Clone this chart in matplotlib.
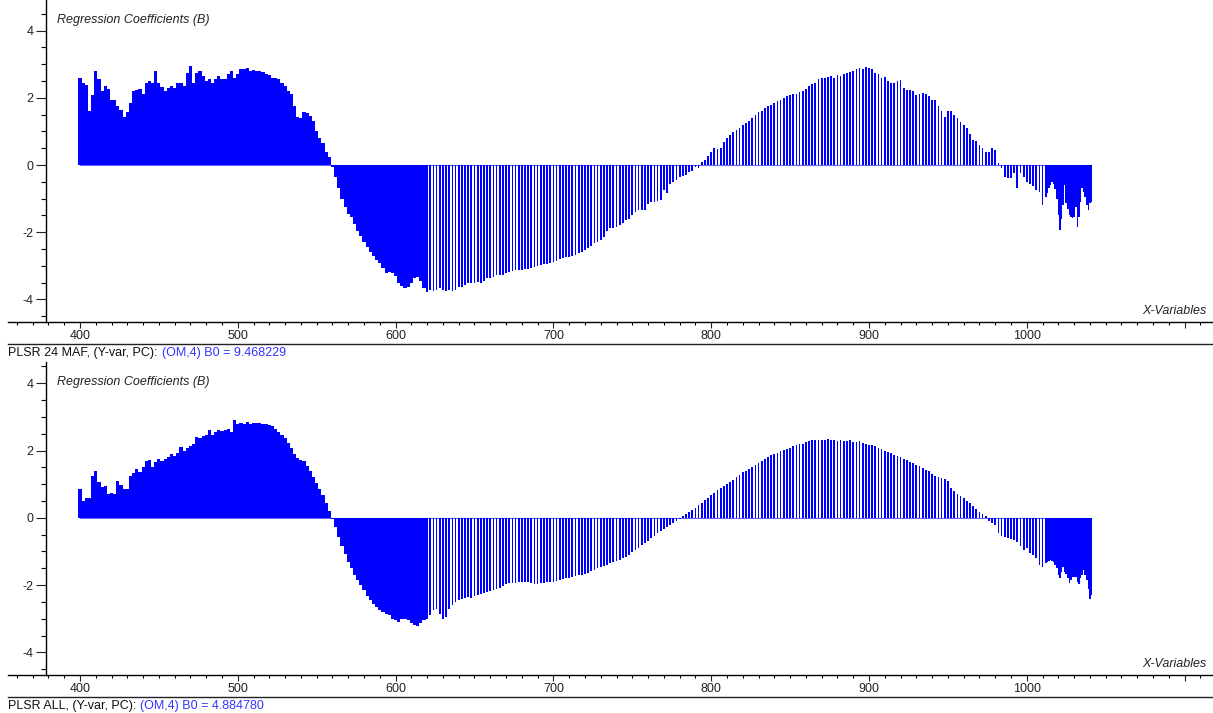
import numpy as np
import matplotlib
matplotlib.use('Agg')
import matplotlib.pyplot as plt
from matplotlib.lines import Line2D
from matplotlib.ticker import MultipleLocator

plt.rcParams['font.family'] = ['Liberation Sans', 'DejaVu Sans']
plt.rcParams['axes.unicode_minus'] = False

# wavelength grids (nm): dense part, sparse part, dense tail
wl_a = np.arange(400, 620, 2)
wl_b = np.arange(620, 1014, 2)
wl_c = np.arange(1013, 1042, 1)

# top panel: PLSR 24 MAF
maf_a = [2.59, 2.45, 2.38, 1.6, 2.08, 2.8, 2.55, 2.2, 2.35, 2.25,
         1.93, 1.93, 1.75, 1.65, 1.42, 1.58, 1.85, 2.2, 2.22, 2.25,
         2.1, 2.45, 2.5, 2.45, 2.8, 2.45, 2.33, 2.2, 2.3, 2.35,
         2.3, 2.45, 2.45, 2.35, 2.75, 2.95, 2.45, 2.75, 2.8, 2.65,
         2.5, 2.55, 2.45, 2.55, 2.65, 2.55, 2.55, 2.7, 2.8, 2.6,
         2.7, 2.85, 2.85, 2.9, 2.8, 2.83, 2.8, 2.8, 2.78, 2.7,
         2.68, 2.6, 2.6, 2.55, 2.45, 2.35, 2.2, 2.1, 1.75, 1.42,
         1.4, 1.58, 1.56, 1.45, 1.3, 1.02, 0.8, 0.67, 0.4, 0.25,
         -0.05, -0.35, -0.69, -1.0, -1.25, -1.47, -1.55, -1.75, -1.95, -2.1,
         -2.28, -2.45, -2.6, -2.72, -2.82, -2.92, -3.05, -3.2, -3.18, -3.2,
         -3.3, -3.5, -3.6, -3.66, -3.64, -3.5, -3.35, -3.33, -3.45, -3.65]
maf_b = [-3.77, -3.72, -3.75, -3.72, -3.66, -3.72, -3.74, -3.72, -3.76, -3.72,
         -3.62, -3.62, -3.58, -3.52, -3.52, -3.5, -3.47, -3.52, -3.45, -3.37,
         -3.35, -3.32, -3.27, -3.28, -3.27, -3.22, -3.18, -3.14, -3.12, -3.12,
         -3.11, -3.09, -3.08, -3.05, -3.03, -3.0, -2.98, -2.95, -2.93, -2.9,
         -2.88, -2.85, -2.79, -2.76, -2.74, -2.73, -2.72, -2.69, -2.62, -2.58,
         -2.52, -2.48, -2.4, -2.33, -2.28, -2.23, -2.15, -1.95, -1.88, -1.88,
         -1.84, -1.79, -1.72, -1.64, -1.6, -1.5, -1.39, -1.35, -1.34, -1.34,
         -1.15, -1.09, -1.09, -1.06, -1.04, -0.74, -0.84, -0.55, -0.5, -0.45,
         -0.37, -0.33, -0.3, -0.22, -0.18, -0.05, -0.1, 0.1, 0.15, 0.28,
         0.4, 0.5, 0.48, 0.5, 0.68, 0.8, 0.9, 0.98, 1.04, 1.1,
         1.2, 1.25, 1.32, 1.4, 1.5, 1.58, 1.62, 1.7, 1.75, 1.8,
         1.85, 1.9, 1.93, 2.0, 2.05, 2.08, 2.1, 2.12, 2.17, 2.2,
         2.25, 2.35, 2.4, 2.45, 2.55, 2.6, 2.58, 2.62, 2.65, 2.6,
         2.68, 2.65, 2.7, 2.75, 2.77, 2.8, 2.85, 2.89, 2.85, 2.92,
         2.9, 2.85, 2.75, 2.7, 2.58, 2.63, 2.5, 2.43, 2.43, 2.5,
         2.53, 2.28, 2.23, 2.23, 2.2, 2.08, 2.1, 2.13, 2.1, 2.05,
         1.93, 1.93, 1.75, 1.6, 1.44, 1.6, 1.62, 1.5, 1.4, 1.29,
         1.2, 1.1, 0.92, 0.75, 0.72, 0.6, 0.5, 0.4, 0.38, 0.5,
         0.45, 0.05, -0.1, -0.35, -0.38, -0.4, -0.25, -0.69, -0.25, -0.35,
         -0.5, -0.55, -0.62, -0.74, -0.79, -1.19, -0.94]
maf_c = [-0.84, -0.69, -0.6, -0.5, -0.55, -0.7, -1.0, -1.5, -1.93, -1.6,
         -1.2, -0.6, -1.14, -1.3, -1.49, -1.55, -1.59, -1.54, -1.24, -1.84,
         -1.54, -1.1, -0.69, -0.8, -0.94, -1.2, -1.34, -1.14, -1.1]

# bottom panel: PLSR ALL
all_a = [0.85, 0.5, 0.6, 0.6, 1.23, 1.4, 1.05, 0.92, 0.95, 0.7,
         0.75, 0.7, 1.1, 0.98, 0.85, 0.85, 1.25, 1.32, 1.46, 1.36,
         1.5, 1.68, 1.72, 1.5, 1.65, 1.75, 1.68, 1.75, 1.8, 1.9,
         1.85, 1.93, 2.1, 1.98, 2.08, 2.12, 2.2, 2.4, 2.38, 2.42,
         2.45, 2.6, 2.45, 2.55, 2.62, 2.58, 2.6, 2.65, 2.55, 2.9,
         2.78, 2.82, 2.8, 2.85, 2.8, 2.83, 2.83, 2.82, 2.8, 2.78,
         2.76, 2.72, 2.63, 2.56, 2.46, 2.37, 2.23, 2.08, 1.9, 1.78,
         1.73, 1.68, 1.55, 1.4, 1.2, 1.03, 0.85, 0.68, 0.45, 0.2,
         -0.03, -0.27, -0.56, -0.84, -1.08, -1.3, -1.5, -1.7, -1.85, -2.0,
         -2.15, -2.33, -2.45, -2.55, -2.65, -2.73, -2.8, -2.86, -2.9, -3.0,
         -3.05, -3.1, -3.0, -3.0, -3.05, -3.12, -3.18, -3.2, -3.12, -3.05]
all_b = [-3.0, -2.9, -2.75, -2.72, -2.85, -3.0, -2.95, -2.7, -2.6, -2.5,
         -2.45, -2.4, -2.38, -2.35, -2.38, -2.33, -2.3, -2.27, -2.23, -2.2,
         -2.18, -2.15, -2.12, -2.08, -2.03, -1.97, -1.95, -1.94, -1.93, -1.91,
         -1.9, -1.9, -1.9, -1.93, -1.97, -1.96, -1.95, -1.93, -1.9, -1.9,
         -1.9, -1.88, -1.85, -1.83, -1.8, -1.79, -1.76, -1.74, -1.71, -1.69,
         -1.66, -1.64, -1.58, -1.55, -1.5, -1.45, -1.43, -1.4, -1.35, -1.3,
         -1.28, -1.25, -1.2, -1.15, -1.1, -1.03, -0.97, -0.9, -0.82, -0.75,
         -0.68, -0.6, -0.53, -0.45, -0.38, -0.32, -0.26, -0.2, -0.15, -0.1,
         -0.04, 0.04, 0.1, 0.16, 0.23, 0.3, 0.37, 0.45, 0.53, 0.6,
         0.68, 0.75, 0.82, 0.88, 0.95, 1.0, 1.05, 1.12, 1.2, 1.28,
         1.35, 1.4, 1.46, 1.52, 1.58, 1.63, 1.7, 1.75, 1.8, 1.86,
         1.9, 1.94, 1.98, 2.02, 2.05, 2.08, 2.12, 2.15, 2.18, 2.2,
         2.25, 2.27, 2.3, 2.3, 2.32, 2.32, 2.3, 2.33, 2.32, 2.3,
         2.28, 2.3, 2.28, 2.27, 2.3, 2.26, 2.25, 2.27, 2.22, 2.2,
         2.17, 2.15, 2.12, 2.08, 2.05, 2.0, 1.96, 1.92, 1.88, 1.84,
         1.8, 1.76, 1.72, 1.66, 1.62, 1.58, 1.54, 1.48, 1.42, 1.38,
         1.3, 1.25, 1.2, 1.18, 1.14, 1.1, 0.9, 0.8, 0.7, 0.66,
         0.58, 0.5, 0.43, 0.35, 0.25, 0.18, 0.12, 0.05, -0.08, -0.14,
         -0.2, -0.45, -0.55, -0.58, -0.61, -0.63, -0.67, -0.72, -0.85, -0.95,
         -0.9, -1.05, -1.1, -1.18, -1.4, -1.45, -1.35]
all_c = [-1.3, -1.28, -1.25, -1.27, -1.3, -1.4, -1.5, -1.7, -1.8, -1.6,
         -1.45, -1.6, -1.66, -1.8, -1.95, -1.85, -1.75, -1.75, -1.75, -1.9,
         -1.97, -1.8, -1.7, -1.55, -1.7, -1.85, -2.1, -2.4, -2.3]

panels = [
    ((maf_a, maf_b, maf_c), 'PLSR 24 MAF, (Y-var, PC):', '(OM,4) B0 = 9.468229'),
    ((all_a, all_b, all_c), 'PLSR ALL, (Y-var, PC):', '(OM,4) B0 = 4.884780'),
]

W, H = 1213, 713
fig = plt.figure(figsize=(W / 100, H / 100), dpi=100)
blue = '#0000ff'
fs = 9

# pixel layout: (axes top, axes bottom, separator y) per panel
layout = [(0, 322, 344), (362, 675, 697)]
ylims = [(-4.67, 4.91), (-4.67, 4.63)]
x0_px, px_per_nm = 80, 1.578

for (vals, lab1, lab2), (top, bot, sep), ylim in zip(panels, layout, ylims):
    ax = fig.add_axes([8 / W, 1 - bot / H, 1 - 8 / W, (bot - top) / H])
    a, b, c = vals
    ax.bar(wl_a, a, width=2.0, color=blue, linewidth=0)
    ax.bar(wl_b, b, width=1.1, color=blue, linewidth=0)
    ax.bar(wl_c, c, width=1.0, color=blue, linewidth=0)
    ax.plot([400, 1041], [0, 0], color=blue, lw=0.8, alpha=0.6)

    ax.set_xlim(400 - (x0_px - 8) / px_per_nm, 400 + (W - x0_px) / px_per_nm)
    ax.set_ylim(*ylim)
    for s in ['top', 'right']:
        ax.spines[s].set_visible(False)
    ax.spines['left'].set_position(('data', 400 - (x0_px - 46) / px_per_nm))
    ax.spines['left'].set_linewidth(1.0)
    ax.spines['bottom'].set_linewidth(1.0)

    ax.set_xticks(np.arange(400, 1101, 100))
    ax.set_xticklabels(['400', '500', '600', '700', '800', '900', '1000', ''])
    ax.xaxis.set_minor_locator(MultipleLocator(10))
    ax.set_yticks([-4, -2, 0, 2, 4])
    ax.yaxis.set_minor_locator(MultipleLocator(0.5))
    ax.tick_params(axis='x', which='major', length=4, width=0.8, pad=1.5,
                   labelsize=fs, colors='#222222')
    ax.tick_params(axis='x', which='minor', length=2.5, width=0.8)
    ax.tick_params(axis='y', which='major', length=7, width=0.8, pad=2,
                   labelsize=fs, colors='#222222')
    ax.tick_params(axis='y', which='minor', length=3.5, width=0.8)

    fig.text(57 / W, 1 - (top + 20) / H, 'Regression Coefficients (B)',
             style='italic', fontsize=fs, color='#222222', va='center', ha='left')
    fig.text(1206 / W, 1 - (bot - 11) / H, 'X-Variables',
             style='italic', fontsize=fs, color='#222222', va='center', ha='right')

    fig.add_artist(Line2D([8 / W, 1], [1 - sep / H, 1 - sep / H],
                          color='#222222', lw=1.0))
    t = fig.text(8 / W, 1 - (sep + 9) / H, lab1, fontsize=fs,
                 color='#111111', va='center', ha='left')
    ax.annotate(lab2, xy=(1, 0.5), xycoords=t, xytext=(3, 0),
                textcoords='offset points', va='center', ha='left',
                fontsize=fs, color='#3333ff', annotation_clip=False)

fig.savefig('out.png', dpi=100)
